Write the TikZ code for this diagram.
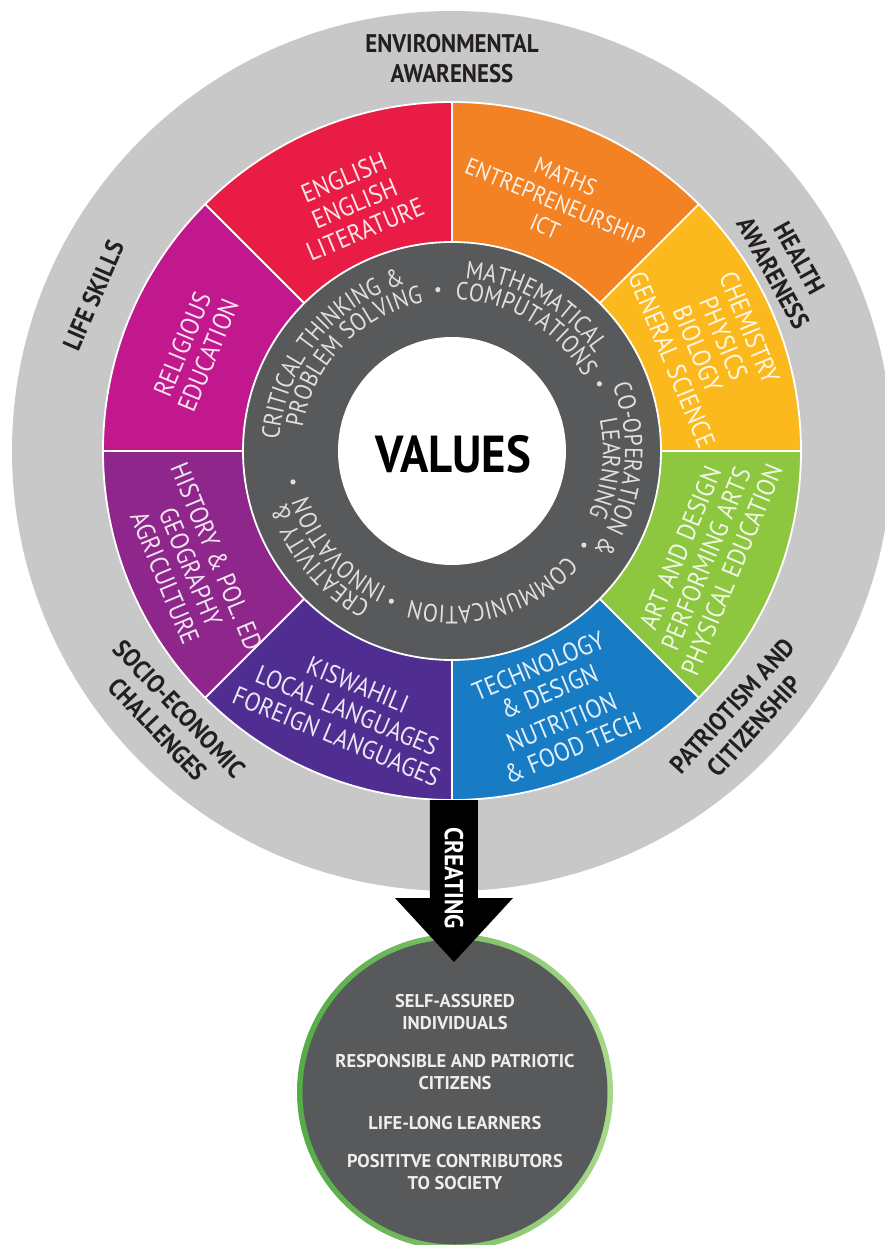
\documentclass[tikz,border=0pt]{standalone}
\usepackage{fontspec}
\setmainfont{PT Sans}
\newfontfamily\ringfam[FakeStretch=0.88]{PT Sans}
\newfontfamily\condfam[FakeStretch=0.9]{PT Sans}
\usetikzlibrary{decorations.text}
\definecolor{cRed}{RGB}{233,28,69}
\definecolor{cOrange}{RGB}{242,130,36}
\definecolor{cYellow}{RGB}{251,185,30}
\definecolor{cGreen}{RGB}{141,198,63}
\definecolor{cBlue}{RGB}{24,124,196}
\definecolor{cIndigo}{RGB}{80,46,145}
\definecolor{cPurple}{RGB}{142,38,140}
\definecolor{cMagenta}{RGB}{194,24,142}
\definecolor{cDark}{RGB}{88,89,91}
\definecolor{cLight}{RGB}{200,200,200}
\definecolor{cRingDark}{RGB}{84,172,70}
\definecolor{cRingLight}{RGB}{168,216,138}
\definecolor{cInk}{RGB}{35,31,32}
\definecolor{cRingText}{RGB}{224,224,224}
\newcommand\segfont{\condfam\fontsize{26}{28}\selectfont}
\newcommand\outfont{\condfam\fontsize{25.5}{30}\selectfont\bfseries}
\newcommand\ringfont{\ringfam\fontsize{25}{25}\selectfont}
\begin{document}
\begin{tikzpicture}[x=1pt,y=1pt,
  seglabel/.style={font=\segfont, align=center, inner sep=0pt},
  outerlabel/.style={font=\outfont, text=cInk, align=center, inner sep=0pt},
  ringtext/.style={decorate, decoration={text along path, text align=center, text color=cRingText, text={|\ringfont|#1}}},
  ringdot/.style={fill=cRingText},
  divider/.style={draw=white, line width=1.8pt}]
\useasboundingbox (-452,-794) rectangle (433,451);
\fill[white] (-452,-794) rectangle (433,451);
% outer grey disc
\fill[cLight] (0,0) circle[radius=440];
% coloured segments
\foreach \a/\c in {90/cRed,45/cOrange,0/cYellow,-45/cGreen,-90/cBlue,-135/cIndigo,180/cPurple,135/cMagenta}{
  \fill[\c] (\a:209) -- (\a:349) arc[start angle=\a, end angle=\a+45, radius=349] -- ({\a+45}:209) arc[start angle=\a+45, end angle=\a, radius=209] -- cycle;
}
\foreach \a in {0,45,...,315}{ \draw[divider] (\a:209) -- (\a:349); }
\draw[divider] (0,0) circle[radius=349];
% dark ring and white centre
\fill[cDark] (0,0) circle[radius=209];
\draw[divider] (0,0) circle[radius=209];
\fill[white] (0,0) circle[radius=114];
\node[font=\condfam\fontsize{52}{52}\selectfont\bfseries, text=black] (values) at (1,-3) {VALUES};
% ring texts
\path[ringtext={CRITICAL THINKING {\&}}] (193:173) arc[start angle=193, end angle=89, radius=173];
\path[ringtext={PROBLEM SOLVING}] (186:151) arc[start angle=186, end angle=86, radius=151];
\path[ringtext={MATHEMATICAL}] (94:173) arc[start angle=94, end angle=26, radius=173];
\path[ringtext={COMPUTATIONS}] (94:151) arc[start angle=94, end angle=24, radius=151];
\path[ringtext={CO-OPERATION {\&}}] (26:173) arc[start angle=26, end angle=-39, radius=173];
\path[ringtext={LEARNING}] (26:151) arc[start angle=26, end angle=-39, radius=151];
\path[ringtext={COMMUNICATION}] (-36:155) arc[start angle=-36, end angle=-112, radius=155];
\path[ringtext={CREATIVITY {\&}}] (-110:173) arc[start angle=-110, end angle=-171, radius=173];
\path[ringtext={INNOVATION}] (-108:151) arc[start angle=-108, end angle=-170, radius=151];
\foreach \a in {95,24.5,-35.5,-112,-169}{ \fill[ringdot] (\a:162) circle[radius=2.6]; }
% segment labels
\node[seglabel, text=white!88!cRed, rotate=22.5] (english) at (111.5:266) {ENGLISH\\ENGLISH\\LITERATURE};
\node[seglabel, text=white!88!cOrange, rotate=-22.5, font=\condfam\fontsize{23.5}{27}\selectfont] (maths) at (67.5:270) {MATHS\\ENTREPRENEURSHIP\\ICT};
\node[seglabel, text=white!88!cYellow, rotate=-67.5] (science) at (22.5:280) {CHEMISTRY\\PHYSICS\\BIOLOGY\\GENERAL SCIENCE};
\node[seglabel, text=white!88!cGreen, rotate=67.5] (arts) at (-23:276) {ART AND DESIGN\\PERFORMING ARTS\\PHYSICAL EDUCATION};
\node[seglabel, text=white!88!cBlue, rotate=22.5] (tech) at (-68:276) {TECHNOLOGY\\\& DESIGN\\[5pt]NUTRITION\\\& FOOD TECH};
\node[seglabel, text=white!88!cIndigo, rotate=-22.5] (lang) at (-112:280) {KISWAHILI\\LOCAL LANGUAGES\\FOREIGN LANGUAGES};
\node[seglabel, text=white!88!cPurple, rotate=-67.5] (hist) at (-156:286) {HISTORY \& POL. ED\\GEOGRAPHY\\AGRICULTURE};
\node[seglabel, text=white!88!cMagenta, rotate=67.5] (rel) at (158.5:276) {RELIGIOUS\\EDUCATION};
% outer labels
\node[outerlabel] (env) at (0,392) {ENVIRONMENTAL\\AWARENESS};
\node[outerlabel, rotate=-61] (health) at (29:382) {HEALTH\\AWARENESS};
\node[outerlabel, rotate=66.5] (life) at (156.5:391) {LIFE SKILLS};
\node[outerlabel, rotate=-46.6] (socio) at (-136.6:390) {SOCIO-ECONOMIC\\CHALLENGES};
\node[outerlabel, rotate=47.7] (patriot) at (-42.3:394) {PATRIOTISM AND\\CITIZENSHIP};
% outcome circle
\shade[left color=cRingDark, right color=cRingLight, even odd rule] (3,-641) circle[radius=158] circle[radius=152];
\node[circle, fill=cDark, minimum size=305pt, inner sep=0pt] (outcome) at (3,-641) {};
\node[font=\fontsize{18.5}{22}\selectfont\bfseries, text=white!90!cDark, align=center] (outtext) at (outcome.center) {SELF-ASSURED\\INDIVIDUALS\\[16pt]RESPONSIBLE AND PATRIOTIC\\CITIZENS\\[18pt]LIFE-LONG LEARNERS\\[16pt]POSITITVE CONTRIBUTORS\\TO SOCIETY};
% arrow
\fill[black] (-22,-349) -- (26,-349) -- (26,-447) -- (61,-447) -- (2,-511) -- (-57,-447) -- (-22,-447) -- cycle;
\node[rotate=-90, text=white, font=\condfam\fontsize{26}{26}\selectfont\bfseries] (creating) at (2,-427) {CREATING};
\end{tikzpicture}
\end{document}
